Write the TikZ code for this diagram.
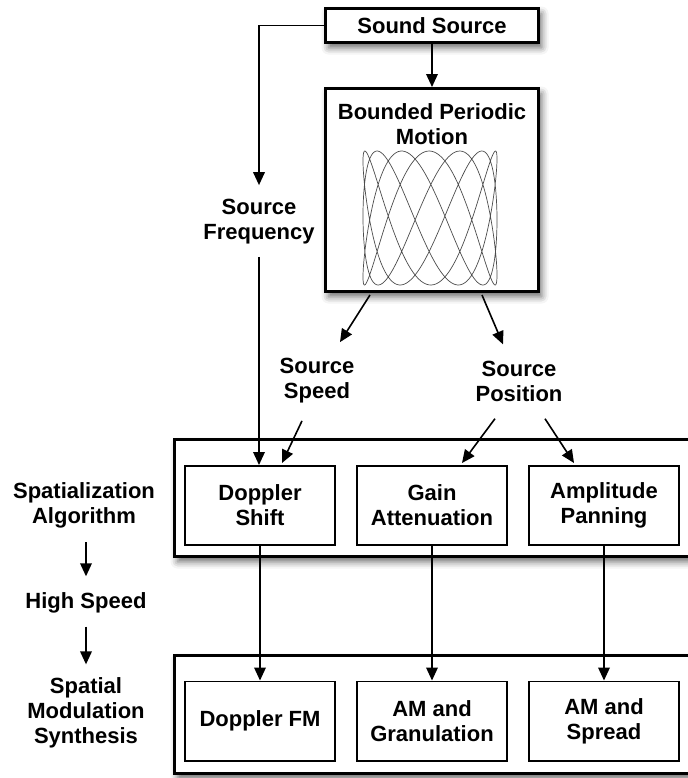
\documentclass[tikz,border=0pt]{standalone}
\usepackage{fontspec}
\setmainfont{Liberation Sans}
\usetikzlibrary{arrows.meta,shadows.blur}

\begin{document}
\begin{tikzpicture}[x=0.5pt, y=-0.5pt, >={Triangle[length=6.5pt,width=5.8pt]},
    font=\fontsize{11}{12.5}\selectfont\bfseries,
    lbl/.style={align=center, inner sep=0pt},
    bigbox/.style={draw, line width=1.5pt, fill=white,
      blur shadow={shadow xshift=1.5pt, shadow yshift=-2.5pt, shadow blur radius=3.5pt, shadow opacity=60}},
    algbox/.style={draw, line width=0.8pt, fill=white, align=center, minimum width=75pt, minimum height=39.7pt},
    conn/.style={->, line width=0.8pt}]
  \useasboundingbox (0,0) rectangle (688,778);

  % top part
  \node[bigbox, minimum width=106.5pt, minimum height=17pt] (src) at (432,25.5) {Sound Source};
  \node[bigbox, minimum width=106.5pt, minimum height=101.5pt] (motion) at (432,190) {};
  \node[lbl] (motiontitle) at (432,124) {Bounded Periodic\\Motion};
  \draw[gray!60!black, line width=0.35pt] plot[domain=0:360, samples=500, smooth]
    ({430+67*sin(3*\x+25)}, {218+67*cos(7*\x)});

  \node[lbl] (freq) at (259,222) {Source\\Frequency};
  \node[lbl] (speed) at (317,381) {Source\\Speed};
  \node[lbl] (pos) at (519,381) {Source\\Position};

  % left column
  \node[lbl] (spatalg) at (84,505) {Spatialization\\Algorithm};
  \node[lbl] (highspeed) at (86,603) {High Speed};
  \node[lbl] (spatmod) at (86,713) {Spatial\\Modulation\\Synthesis};

  % groups
  \node[bigbox, minimum width=265.25pt, minimum height=58.5pt] (grpA) at (439.75,498) {};
  \node[bigbox, minimum width=265.25pt, minimum height=59pt] (grpB) at (439.75,714.5) {};

  \node[algbox] (doppler) at (260,505.5) {Doppler\\Shift};
  \node[algbox] (gain) at (432,505.5) {Gain\\Attenuation};
  \node[algbox] (amp) at (604,505.5) {Amplitude\\Panning};

  \node[algbox] (dfm) at (260,721) {Doppler FM};
  \node[algbox] (amgran) at (432,721) {AM and\\Granulation};
  \node[algbox] (amspread) at (604,721) {AM and\\Spread};

  % connectors
  \draw[conn] (src.south) -- (motion.north);
  \draw[conn, shorten >=7pt] (src.west) -| (freq.north);
  \draw[conn, shorten <=6pt] (freq.south) -- (freq.south |- doppler.north);
  \draw[conn] ([xshift=-31pt,yshift=-1pt]motion.south) -- ([xshift=11.5pt,yshift=8pt]speed.north);
  \draw[conn] ([xshift=25pt,yshift=-1pt]motion.south) -- ([xshift=-8pt,yshift=8pt]pos.north);
  \draw[conn] ([xshift=-7.5pt,yshift=-8.5pt]speed.south) -- ([xshift=11pt,yshift=1pt]doppler.north);
  \draw[conn] ([xshift=-12pt,yshift=-8.5pt]pos.south) -- ([xshift=15pt,yshift=1pt]gain.north);
  \draw[conn] ([xshift=13pt,yshift=-8.5pt]pos.south) -- ([xshift=-15pt,yshift=1pt]amp.north);

  \draw[conn] (doppler) -- (dfm);
  \draw[conn] (gain) -- (amgran);
  \draw[conn] (amp) -- (amspread);

  \draw[conn, shorten <=7pt, shorten >=8pt] (highspeed.north |- spatalg.south) -- (highspeed.north);
  \draw[conn, shorten <=6.5pt, shorten >=6.5pt] (highspeed.south) -- (highspeed.south |- spatmod.north);
\end{tikzpicture}
\end{document}
